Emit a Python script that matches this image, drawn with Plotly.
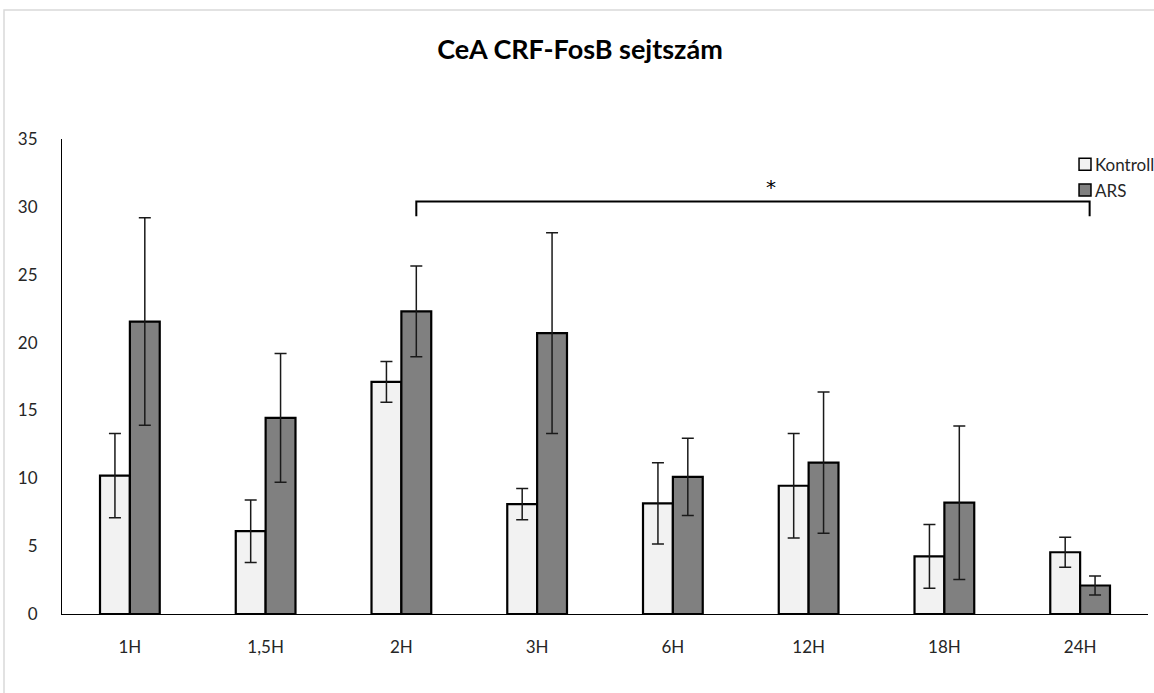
import plotly.graph_objects as go

categories = ["1H", "1,5H", "2H", "3H", "6H", "12H", "18H", "24H"]
kontroll = [10.2, 6.1, 17.1, 8.1, 8.15, 9.45, 4.25, 4.55]
kontroll_err = [3.1, 2.3, 1.5, 1.15, 3.0, 3.85, 2.35, 1.1]
ars = [21.55, 14.45, 22.3, 20.7, 10.1, 11.15, 8.2, 2.1]
ars_err = [7.65, 4.75, 3.35, 7.4, 2.85, 5.2, 5.65, 0.7]
y_ticks = [0, 5, 10, 15, 20, 25, 30, 35]
series_names = ["Kontroll", "ARS"]
series_colors = ["#F2F2F2", "#808080"]

FONT = "Lato, 'Open Sans', sans-serif"
TXT = "#262626"

fig = go.Figure()
for name, vals, errs, col in [(series_names[0], kontroll, kontroll_err, series_colors[0]),
                              (series_names[1], ars, ars_err, series_colors[1])]:
    fig.add_trace(go.Bar(
        name=name, x=categories, y=vals, showlegend=False,
        marker=dict(color=col, line=dict(color="black", width=2.2)),
        error_y=dict(type="data", array=errs, visible=True,
                     color="#1a1a1a", thickness=1.5, width=6),
    ))

# significance bracket
fig.add_shape(type="path", xref="x", yref="y",
              path="M 2.11,29.3 L 2.11,30.4 L 7.07,30.4 L 7.07,29.3",
              line=dict(color="black", width=2))
fig.add_annotation(x=4.72, y=31.5, xref="x", yref="y", text="*",
                   showarrow=False, font=dict(family="DejaVu Sans", size=20, color="black"))

# legend (drawn manually so the swatch sits close to the text)
leg_y = [0.947, 0.8925]
for name, col, yc in zip(series_names, series_colors, leg_y):
    fig.add_shape(type="rect", xref="paper", yref="paper",
                  x0=0.9365, x1=0.9475, y0=yc - 0.0126, y1=yc + 0.0126,
                  fillcolor=col, line=dict(color="black", width=1.5))
    fig.add_annotation(x=0.9495, y=yc, xref="paper", yref="paper", text=name,
                       xanchor="left", yanchor="middle", showarrow=False,
                       font=dict(family=FONT, size=17, color=TXT))

# chart border
fig.add_shape(type="rect", xref="paper", yref="paper",
              x0=-0.0534, x1=1.03, y0=-0.3, y1=1.2716,
              line=dict(color="#D9D9D9", width=1.5), layer="below")

fig.update_layout(
    width=1154, height=693,
    margin=dict(l=62, r=6, t=139, b=79, autoexpand=False),
    paper_bgcolor="white", plot_bgcolor="white",
    barmode="group", bargap=0.56, bargroupgap=0,
    showlegend=False,
    title=dict(text="<b>CeA CRF-FosB sejtszám</b>", xref="container", yref="container",
               x=580/1154, y=1-50/693, xanchor="center", yanchor="middle",
               font=dict(family=FONT, size=27, color="black")),
    font=dict(family=FONT, size=17, color=TXT),
    xaxis=dict(showline=True, linecolor="black", linewidth=1, ticks="",
               showgrid=False, ticklabelstandoff=18, tickfont=dict(size=17)),
    yaxis=dict(range=[0, 35], tickvals=y_ticks, showline=True, linecolor="black",
               linewidth=1, showgrid=False, zeroline=False, ticks="",
               ticklabelstandoff=20, tickfont=dict(size=17)),
)

fig.write_html("out.html")
